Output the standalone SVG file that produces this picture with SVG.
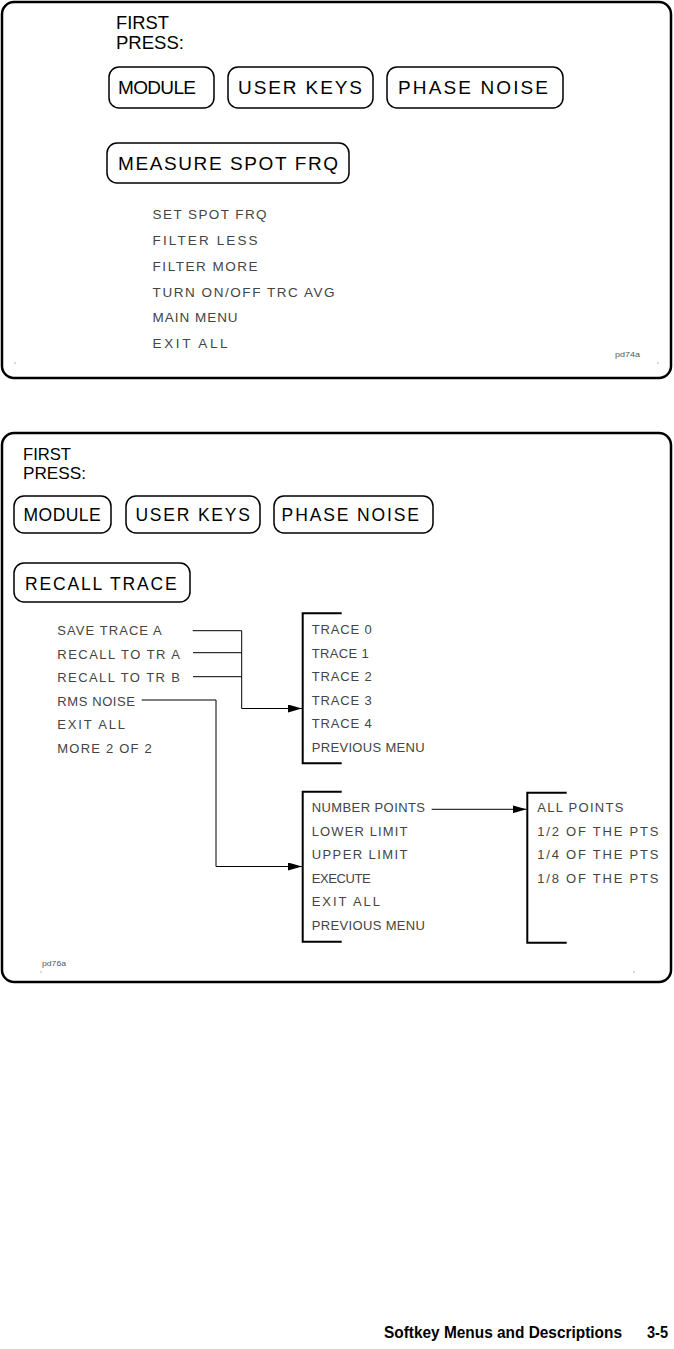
<svg xmlns="http://www.w3.org/2000/svg" width="674" height="1349" viewBox="0 0 674 1349">
<style>
.frame{fill:none;stroke:#000;stroke-width:2.5}
.btn{fill:none;stroke:#000;stroke-width:1.5}
.hd{font-family:"Liberation Sans Narrow","Liberation Sans",Arial,sans-serif;font-size:17.5px;fill:#000}
.hd2{font-family:"Liberation Sans Narrow","Liberation Sans",Arial,sans-serif;font-size:16.5px;fill:#000}
.bt{font-family:"Liberation Sans","DejaVu Sans",sans-serif;font-size:19px;fill:#000}
.bt2{font-family:"Liberation Sans","DejaVu Sans",sans-serif;font-size:17.5px;fill:#000}
.mi{font-family:"Liberation Sans","DejaVu Sans",sans-serif;font-size:13.5px;fill:#444}
.mi2{font-family:"Liberation Sans","DejaVu Sans",sans-serif;font-size:13px;fill:#444}
.tag{font-family:"Liberation Sans","DejaVu Sans",sans-serif;font-size:8px;fill:#555}
.con{fill:none;stroke:#000;stroke-width:1}
.brk{fill:none;stroke:#000;stroke-width:2}
.dot{fill:#999}
.ft{font-family:"Liberation Sans Narrow","Liberation Sans",Arial,sans-serif;font-size:16px;font-weight:bold;fill:#000}
</style>
<defs>
<marker id="arr" markerUnits="userSpaceOnUse" markerWidth="14" markerHeight="8" refX="14" refY="4" orient="auto">
<path d="M0,0 L14,4 L0,8 Z" fill="#000"/>
</marker>
</defs>

<g id="panel1">
<rect class="frame" x="2" y="2" width="669" height="376" rx="12"/>
<text class="hd" x="116" y="29" textLength="53" lengthAdjust="spacingAndGlyphs">FIRST</text>
<text class="hd" x="116" y="49" textLength="68" lengthAdjust="spacingAndGlyphs">PRESS:</text>
<circle class="dot" cx="15" cy="363" r="0.7"/>
<circle class="dot" cx="658" cy="363" r="0.7"/>
<text class="tag" x="615" y="357" textLength="25" lengthAdjust="spacingAndGlyphs">pd74a</text>
</g>
<g id="p1-module"><rect class="btn" x="109" y="67" width="105" height="41" rx="10"/><text class="bt" x="118" y="94" textLength="78" lengthAdjust="spacing">MODULE</text></g>
<g id="p1-userkeys"><rect class="btn" x="228" y="67" width="145" height="41" rx="10"/><text class="bt" x="238" y="94" textLength="124" lengthAdjust="spacing">USER KEYS</text></g>
<g id="p1-phasenoise"><rect class="btn" x="387" y="67" width="176" height="41" rx="10"/><text class="bt" x="398" y="94" textLength="150" lengthAdjust="spacing">PHASE NOISE</text></g>
<g id="p1-measure"><rect class="btn" x="107" y="143" width="242" height="40" rx="10"/><text class="bt" x="118" y="170" textLength="220" lengthAdjust="spacing">MEASURE SPOT FRQ</text></g>
<g id="p1-menu">
<text class="mi" x="152.6" y="219.3" textLength="114" lengthAdjust="spacing">SET SPOT FRQ</text>
<text class="mi" x="152.6" y="245" textLength="105" lengthAdjust="spacing">FILTER LESS</text>
<text class="mi" x="152.6" y="270.7" textLength="105" lengthAdjust="spacing">FILTER MORE</text>
<text class="mi" x="152.6" y="296.5" textLength="182" lengthAdjust="spacing">TURN ON/OFF TRC AVG</text>
<text class="mi" x="152.6" y="322.3" textLength="85" lengthAdjust="spacing">MAIN MENU</text>
<text class="mi" x="152.6" y="348" textLength="75" lengthAdjust="spacing">EXIT ALL</text>
</g>

<g id="panel2">
<rect class="frame" x="2" y="433" width="669" height="549" rx="12"/>
<text class="hd2" x="23" y="460" textLength="48" lengthAdjust="spacingAndGlyphs">FIRST</text>
<text class="hd2" x="23" y="479" textLength="63" lengthAdjust="spacingAndGlyphs">PRESS:</text>
<circle class="dot" cx="41" cy="972" r="0.7"/>
<circle class="dot" cx="634" cy="972" r="0.7"/>
<text class="tag" x="42" y="966" textLength="24" lengthAdjust="spacingAndGlyphs">pd76a</text>
</g>
<g id="p2-module"><rect class="btn" x="14" y="496" width="97" height="37" rx="10"/><text class="bt2" x="23.6" y="521" textLength="77" lengthAdjust="spacing">MODULE</text></g>
<g id="p2-userkeys"><rect class="btn" x="126" y="496" width="134" height="37" rx="10"/><text class="bt2" x="135.4" y="521" textLength="114.6" lengthAdjust="spacing">USER KEYS</text></g>
<g id="p2-phasenoise"><rect class="btn" x="274" y="496" width="159" height="37" rx="10"/><text class="bt2" x="281.6" y="521" textLength="137.4" lengthAdjust="spacing">PHASE NOISE</text></g>
<g id="p2-recall"><rect class="btn" x="14" y="563" width="176" height="39" rx="10"/><text class="bt2" x="25" y="590" textLength="151.7" lengthAdjust="spacing">RECALL TRACE</text></g>

<g id="p2-menu">
<text class="mi2" x="57.3" y="635" textLength="104.4" lengthAdjust="spacing">SAVE TRACE A</text>
<text class="mi2" x="57.3" y="658.5" textLength="122.7" lengthAdjust="spacing">RECALL TO TR A</text>
<text class="mi2" x="57.3" y="682" textLength="122.7" lengthAdjust="spacing">RECALL TO TR B</text>
<text class="mi2" x="57.3" y="705.5" textLength="77.7" lengthAdjust="spacing">RMS NOISE</text>
<text class="mi2" x="57.3" y="729" textLength="67.7" lengthAdjust="spacing">EXIT ALL</text>
<text class="mi2" x="57.3" y="752.5" textLength="94.4" lengthAdjust="spacing">MORE 2 OF 2</text>
</g>

<g id="trace-menu">
<path class="brk" d="M341.7 613.3 H302.7 V763.3 H341.7"/>
<text class="mi2" x="311.7" y="634" textLength="60" lengthAdjust="spacing">TRACE 0</text>
<text class="mi2" x="311.7" y="657.5" textLength="57" lengthAdjust="spacing">TRACE 1</text>
<text class="mi2" x="311.7" y="681" textLength="60" lengthAdjust="spacing">TRACE 2</text>
<text class="mi2" x="311.7" y="704.5" textLength="60" lengthAdjust="spacing">TRACE 3</text>
<text class="mi2" x="311.7" y="728" textLength="60" lengthAdjust="spacing">TRACE 4</text>
<text class="mi2" x="311.7" y="751.5" textLength="113" lengthAdjust="spacing">PREVIOUS MENU</text>
</g>

<g id="rms-menu">
<path class="brk" d="M341.7 791.7 H302.7 V941.7 H341.7"/>
<text class="mi2" x="311.7" y="812" textLength="113.3" lengthAdjust="spacing">NUMBER POINTS</text>
<text class="mi2" x="311.7" y="835.5" textLength="95.7" lengthAdjust="spacing">LOWER LIMIT</text>
<text class="mi2" x="311.7" y="859" textLength="95.7" lengthAdjust="spacing">UPPER LIMIT</text>
<text class="mi2" x="311.7" y="882.5" textLength="59" lengthAdjust="spacing">EXECUTE</text>
<text class="mi2" x="311.7" y="906" textLength="68.3" lengthAdjust="spacing">EXIT ALL</text>
<text class="mi2" x="311.7" y="929.5" textLength="113.3" lengthAdjust="spacing">PREVIOUS MENU</text>
</g>

<g id="points-menu">
<path class="brk" d="M566.7 792.7 H527.3 V942.7 H566.7"/>
<text class="mi2" x="537.3" y="812" textLength="86" lengthAdjust="spacing">ALL POINTS</text>
<text class="mi2" x="537.3" y="835.5" textLength="121" lengthAdjust="spacing">1/2 OF THE PTS</text>
<text class="mi2" x="537.3" y="859" textLength="121" lengthAdjust="spacing">1/4 OF THE PTS</text>
<text class="mi2" x="537.3" y="882.5" textLength="121" lengthAdjust="spacing">1/8 OF THE PTS</text>
</g>

<g id="connectors">
<path class="con" d="M192.7 630.7 H241.7 V708.5 H302" marker-end="url(#arr)"/>
<path class="con" d="M193 652.7 H241.7"/>
<path class="con" d="M193 676.7 H241.7"/>
<path class="con" d="M141.7 700 H216 V866.5 H302" marker-end="url(#arr)"/>
<path class="con" d="M431.7 809.3 H526.5" marker-end="url(#arr)"/>
</g>

<g id="footer">
<text class="ft" x="384" y="1338" textLength="238" lengthAdjust="spacingAndGlyphs">Softkey Menus and Descriptions</text>
<text class="ft" x="647" y="1338" textLength="21" lengthAdjust="spacingAndGlyphs">3-5</text>
</g>
</svg>
